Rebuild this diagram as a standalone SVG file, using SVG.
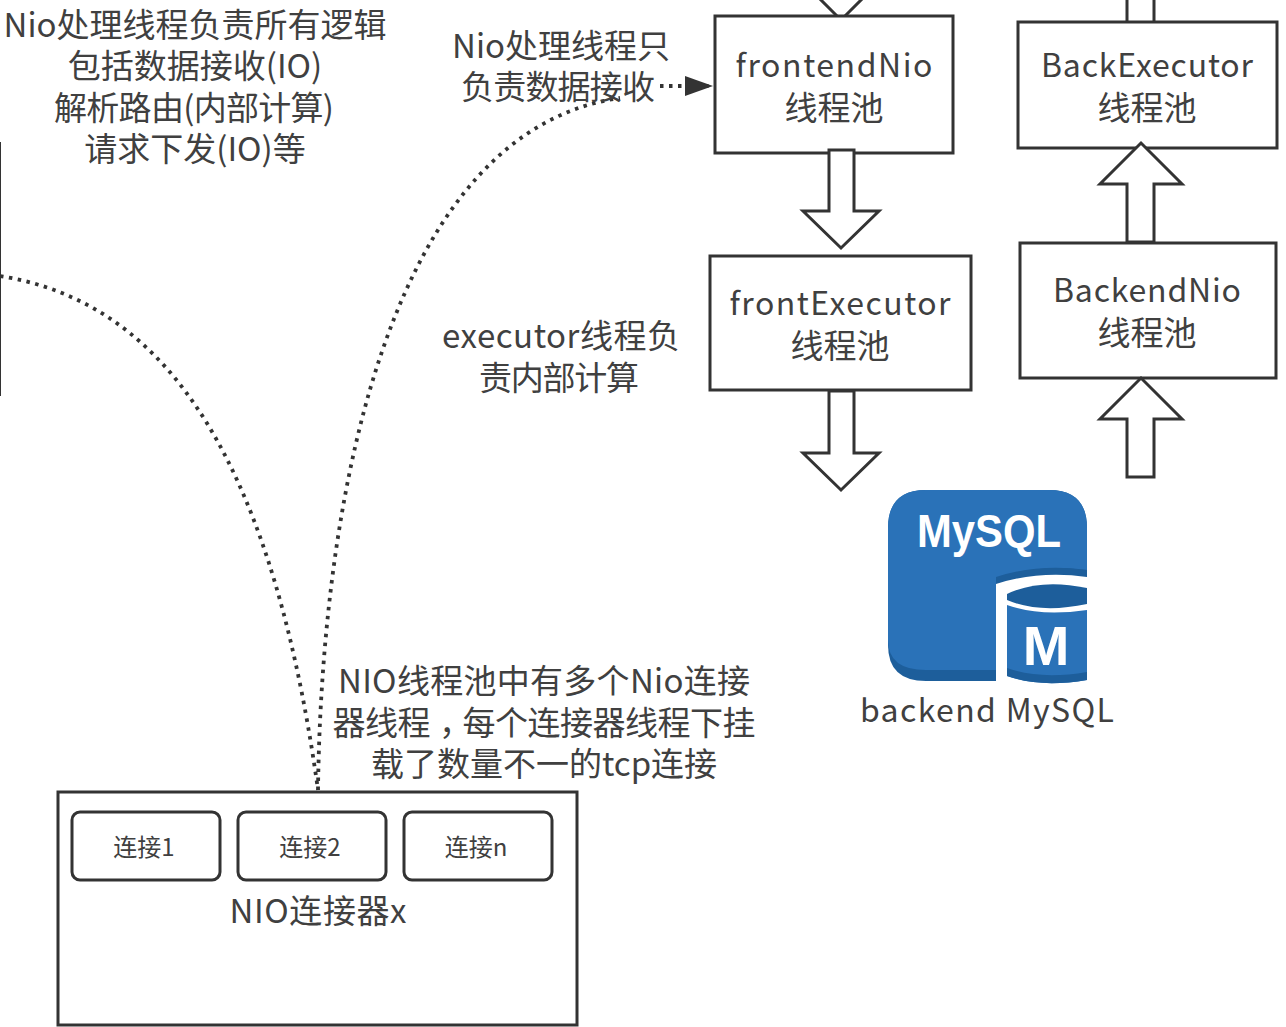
<svg xmlns="http://www.w3.org/2000/svg" width="1286" height="1027" viewBox="0 0 1286 1027">
<style>
text{font-family:"Noto Sans CJK SC","Liberation Sans",sans-serif;fill:#404040;text-anchor:middle;font-size:33px}
.box{fill:#fff;stroke:#333;stroke-width:3}
.conn{fill:#fff;stroke:#333;stroke-width:3}
.arrow{fill:#fff;stroke:#333;stroke-width:3;stroke-linejoin:miter}
.dot{fill:none;stroke:#333;stroke-width:3.8;stroke-dasharray:3.5 5.5}
.small{font-size:24px}
.lat{font-size:32px}
</style>
<defs><marker id="tri" markerUnits="userSpaceOnUse" markerWidth="30" markerHeight="22" refX="28" refY="10" orient="auto"><path d="M0 0L28 10L0 20Z" fill="#333"/></marker></defs>
<rect width="1286" height="1027" fill="#fff"/>
<g id="connectors">
<path class="dot" d="M0 276C150 300 268 430 318 790"/>
<path class="dot" d="M318 790C322 480 395 130 620 98"/>
<path class="dot" d="M660 86L713 86" marker-end="url(#tri)"/>
<path d="M0 142V396" fill="none" stroke="#333" stroke-width="2"/>
</g>
<g id="arrow-top"><path class="arrow" d="M816 -5L841 20L866 -5"/></g>
<g id="frontendNio"><rect class="box" x="715" y="16" width="238" height="137"/><text class="lat" x="834" y="77" textLength="197">frontendNio</text><text x="834" y="120">线程池</text></g>
<g id="BackExecutor"><rect class="box" x="1018" y="22" width="259" height="126"/><text class="lat" x="1147" y="77" textLength="212">BackExecutor</text><text x="1147" y="120">线程池</text></g>
<g id="arrow-back-top"><path d="M1127 0V21M1154 0V21" stroke="#333" stroke-width="3" fill="none"/></g>
<g id="arrow-front-1"><path class="arrow" d="M829 150H854V211H879L841 248L803 211H829Z"/></g>
<g id="frontExecutor"><rect class="box" x="710" y="256" width="261" height="134"/><text class="lat" x="840" y="315" textLength="221">frontExecutor</text><text x="840" y="358">线程池</text></g>
<g id="arrow-front-2"><path class="arrow" d="M829 391H854V453H879L841 490L803 453H829Z"/></g>
<g id="BackendNio"><rect class="box" x="1020" y="243" width="256" height="135"/><text class="lat" x="1147" y="302" textLength="188">BackendNio</text><text x="1147" y="345">线程池</text></g>
<g id="arrow-back-1"><path class="arrow" d="M1127 242V184H1100L1141 143L1182 184H1154V242Z"/></g>
<g id="arrow-back-2"><path class="arrow" d="M1127 477V419H1100L1141 378L1182 419H1154V477Z"/></g>
<g id="mysql">
<path d="M888 528Q888 490 926 490H1049Q1087 490 1087 528V681H926Q888 681 888 645Z" fill="#1d5e9b"/>
<path d="M888 528Q888 490 926 490H1049Q1087 490 1087 528V570Q1035 564 996 578V670H926Q888 670 888 640Z" fill="#2a72b8"/>
<path d="M996 577Q1040 563 1087 570V576Q1035 570 996 584Z" fill="#1d5e9b"/>
<path d="M996 584Q1040 570 1087 577V684H996Z" fill="#fff"/>
<path d="M1007 594Q1040 578 1087 588V604Q1040 614 1007 600Z" fill="#1d5e9b"/>
<path d="M1007 605Q1040 617 1087 610V680Q1040 688 1007 676Z" fill="#2a72b8"/>
<path d="M1007 668Q1040 680 1087 672V680Q1040 688 1007 676Z" fill="#1d5e9b"/>
<text x="989" y="547" textLength="144" lengthAdjust="spacingAndGlyphs" style="font-family:'Liberation Sans',sans-serif;font-weight:700;font-size:46px;fill:#fff">MySQL</text>
<text x="1046" y="665" style="font-family:'Liberation Sans',sans-serif;font-weight:700;font-size:56px;fill:#fff">M</text>
<text class="lat" x="987" y="722" textLength="254">backend MySQL</text>
</g>
<g id="nio-connector"><rect class="box" x="58" y="792" width="519" height="233"/><text x="318" y="923" textLength="177">NIO连接器x</text></g>
<g id="conn1"><rect class="conn" x="72" y="812" width="148" height="68" rx="8"/><text class="small" x="144" y="856">连接1</text></g>
<g id="conn2"><rect class="conn" x="238" y="812" width="148" height="68" rx="8"/><text class="small" x="310" y="856">连接2</text></g>
<g id="connn"><rect class="conn" x="404" y="812" width="148" height="68" rx="8"/><text class="small" x="476" y="856">连接n</text></g>
<g id="notes">
<text x="195" y="37">Nio处理线程负责所有逻辑</text>
<text x="195" y="78">包括数据接收(IO)</text>
<text x="194" y="120" textLength="280">解析路由(内部计算)</text>
<text x="195" y="161">请求下发(IO)等</text>
<text x="561" y="58">Nio处理线程只</text>
<text x="558" y="99" textLength="194">负责数据接收</text>
<text x="561" y="348" textLength="238">executor线程负</text>
<text x="559" y="390" textLength="160">责内部计算</text>
<text x="544" y="693" textLength="412">NIO线程池中有多个Nio连接</text>
<text x="544" y="735" textLength="423">器线程<tspan dx="9">，</tspan><tspan dx="-9">每个连接器线程下挂</tspan></text>
<text x="544" y="776">载了数量不一的tcp连接</text>
</g>
</svg>
